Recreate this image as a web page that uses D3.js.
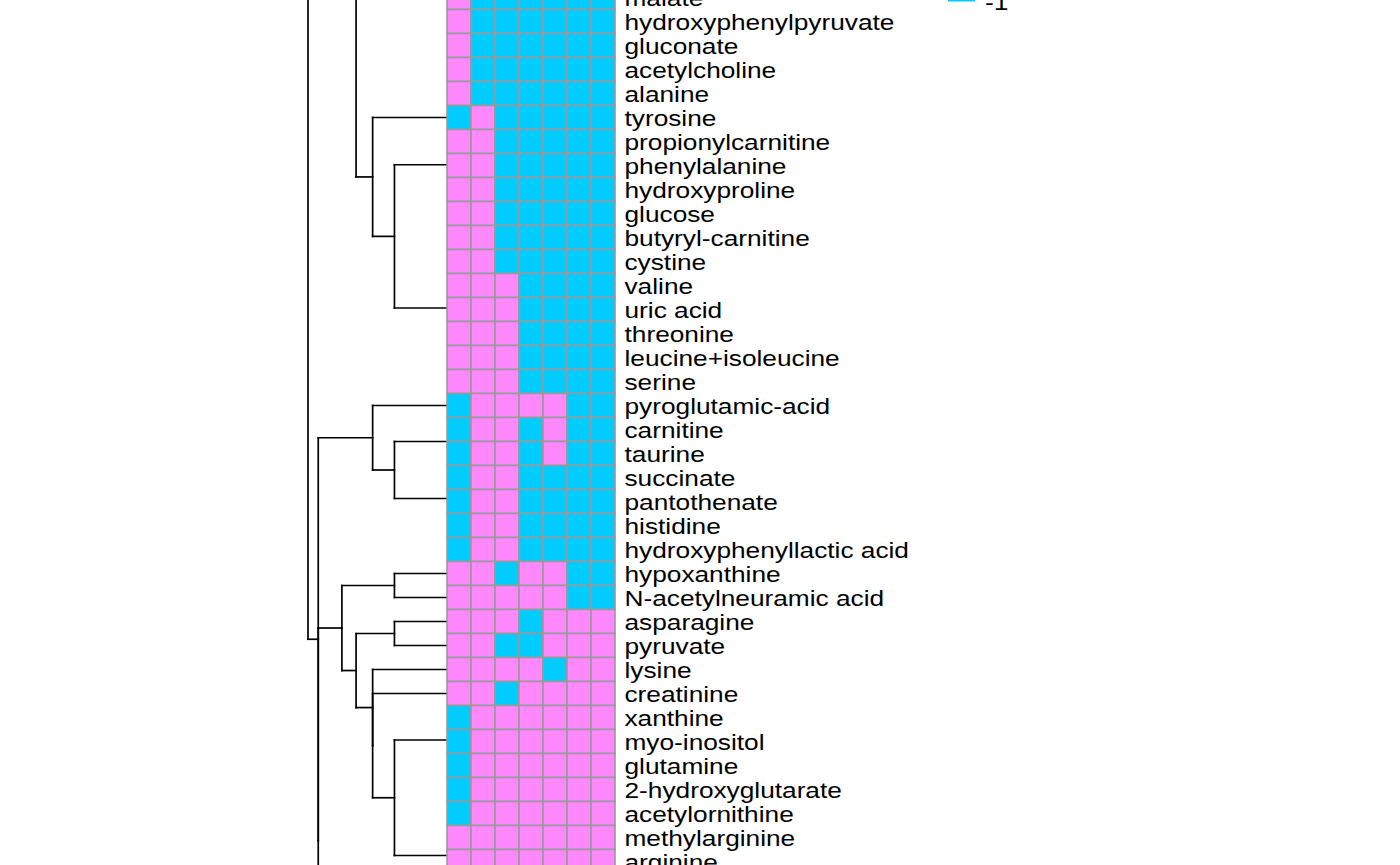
<!DOCTYPE html>
<html>
<head>
<meta charset="utf-8">
<script src="https://cdn.jsdelivr.net/npm/d3@7"></script>
<style>
  html, body { margin: 0; padding: 0; background: #ffffff; }
  svg { display: block; }
</style>
</head>
<body>
<div id="chart"></div>
<script>
// ---------------- data ----------------
const rowLabels = [
  "malate", "hydroxyphenylpyruvate", "gluconate", "acetylcholine", "alanine",
  "tyrosine", "propionylcarnitine", "phenylalanine", "hydroxyproline", "glucose",
  "butyryl-carnitine", "cystine", "valine", "uric acid", "threonine",
  "leucine+isoleucine", "serine", "pyroglutamic-acid", "carnitine", "taurine",
  "succinate", "pantothenate", "histidine", "hydroxyphenyllactic acid",
  "hypoxanthine", "N-acetylneuramic acid", "asparagine", "pyruvate", "lysine",
  "creatinine", "xanthine", "myo-inositol", "glutamine", "2-hydroxyglutarate",
  "acetylornithine", "methylarginine", "arginine"
];
const columns = [1, 2, 3, 4, 5, 6, 7];
// 1 = up (pink), -1 = down (cyan)
const values = [
  [ 1,-1,-1,-1,-1,-1,-1], // malate
  [ 1,-1,-1,-1,-1,-1,-1], // hydroxyphenylpyruvate
  [ 1,-1,-1,-1,-1,-1,-1], // gluconate
  [ 1,-1,-1,-1,-1,-1,-1], // acetylcholine
  [ 1,-1,-1,-1,-1,-1,-1], // alanine
  [-1, 1,-1,-1,-1,-1,-1], // tyrosine
  [ 1, 1,-1,-1,-1,-1,-1], // propionylcarnitine
  [ 1, 1,-1,-1,-1,-1,-1], // phenylalanine
  [ 1, 1,-1,-1,-1,-1,-1], // hydroxyproline
  [ 1, 1,-1,-1,-1,-1,-1], // glucose
  [ 1, 1,-1,-1,-1,-1,-1], // butyryl-carnitine
  [ 1, 1,-1,-1,-1,-1,-1], // cystine
  [ 1, 1, 1,-1,-1,-1,-1], // valine
  [ 1, 1, 1,-1,-1,-1,-1], // uric acid
  [ 1, 1, 1,-1,-1,-1,-1], // threonine
  [ 1, 1, 1,-1,-1,-1,-1], // leucine+isoleucine
  [ 1, 1, 1,-1,-1,-1,-1], // serine
  [-1, 1, 1, 1, 1,-1,-1], // pyroglutamic-acid
  [-1, 1, 1,-1, 1,-1,-1], // carnitine
  [-1, 1, 1,-1, 1,-1,-1], // taurine
  [-1, 1, 1,-1,-1,-1,-1], // succinate
  [-1, 1, 1,-1,-1,-1,-1], // pantothenate
  [-1, 1, 1,-1,-1,-1,-1], // histidine
  [-1, 1, 1,-1,-1,-1,-1], // hydroxyphenyllactic acid
  [ 1, 1,-1, 1, 1,-1,-1], // hypoxanthine
  [ 1, 1, 1, 1, 1,-1,-1], // N-acetylneuramic acid
  [ 1, 1, 1,-1, 1, 1, 1], // asparagine
  [ 1, 1,-1,-1, 1, 1, 1], // pyruvate
  [ 1, 1, 1, 1,-1, 1, 1], // lysine
  [ 1, 1,-1, 1, 1, 1, 1], // creatinine
  [-1, 1, 1, 1, 1, 1, 1], // xanthine
  [-1, 1, 1, 1, 1, 1, 1], // myo-inositol
  [-1, 1, 1, 1, 1, 1, 1], // glutamine
  [-1, 1, 1, 1, 1, 1, 1], // 2-hydroxyglutarate
  [-1, 1, 1, 1, 1, 1, 1], // acetylornithine
  [ 1, 1, 1, 1, 1, 1, 1], // methylarginine
  [ 1, 1, 1, 1, 1, 1, 1]  // arginine
];
const legendValues = [1, -1];
const legendLabels = ["1", "-1"];

// Row dendrogram: [mergeHeight, left, right]; leaves are row indices.
// Indices outside 0..36 are rows of the full heatmap that lie outside this view.
const chainA = [0, 6, [0, 7, [0, 8, [0, 9, [0, 10, 11]]]]];
const chainB = [0, 12, [0, 13, [0, 14, [0, 15, 16]]]];
const topChain = [0, -20, [0, 0, [0, 1, [0, 2, [0, 3, 4]]]]];
const upperBranch = [4.9, -40, [3.46, topChain, [2.83, 5, [2, chainA, chainB]]]];
const pyroBranch = [2.83, 17, [2, [0, 18, 19], [0, 20, [0, 21, [0, 22, 23]]]]];
const xanChain = [0, 30, [0, 31, [0, 32, [0, 33, 34]]]];
const argChain = [0, 35, [0, 36, 37]];
const lowerBranch = [4.9, [4, [2, 24, 25],
                           [3.46, [2, 26, 27], [2.83, 28, [2.83, 29, [2, xanChain, argChain]]]]], 44];
const rowTree = [5.29, upperBranch, [4.9, pyroBranch, lowerBranch]];

// ---------------- drawing ----------------
const W = 1400, H = 865;
const colorOf = v => v > 0 ? "#FF88FF" : "#00CCFF";

const svg = d3.select("#chart").append("svg")
  .attr("width", W).attr("height", H)
  .style("background", "#ffffff");

const rowCenter = d3.scaleLinear().domain([0, rowLabels.length - 1]).range([-2.5, 861.5]);
const cellH = rowCenter(1) - rowCenter(0);
const x = d3.scaleBand().domain(columns).range([447, 615]).padding(0);
const hx = d3.scaleLinear().domain([0, 5.29]).range([447, 308]);

// dendrogram
const segs = [];
function layout(node) {
  if (typeof node === "number") return { y: rowCenter(node), h: 0 };
  const [h, l, r] = node;
  const a = layout(l), b = layout(r);
  const nx = hx(h);
  if (h > 0) {
    segs.push([[nx, a.y], [nx, b.y]]);
    segs.push([[nx, a.y], [hx(a.h), a.y]]);
    segs.push([[nx, b.y], [hx(b.h), b.y]]);
  }
  return { y: (a.y + b.y) / 2, h: h };
}
layout(rowTree);

svg.append("g").attr("class", "dendrogram")
  .selectAll("path").data(segs).join("path")
  .attr("d", d => d3.line()(d))
  .attr("fill", "none")
  .attr("stroke", "#000")
  .attr("stroke-width", 1.7)
  .attr("stroke-linecap", "square");

// heatmap cells
const cells = [];
values.forEach((row, i) => row.forEach((v, j) => cells.push({ i, c: columns[j], v })));
svg.append("g").attr("class", "cells")
  .selectAll("rect").data(cells).join("rect")
  .attr("x", d => x(d.c))
  .attr("y", d => rowCenter(d.i) - cellH / 2)
  .attr("width", x.bandwidth())
  .attr("height", cellH)
  .attr("fill", d => colorOf(d.v))
  .attr("stroke", "#999999")
  .attr("stroke-width", 1.6);

// row labels
const fontSize = 22.5, stretch = 1.167;
svg.append("g").attr("class", "labels")
  .selectAll("text").data(rowLabels).join("text")
  .attr("transform", (d, i) => `translate(624.5,${rowCenter(i) + 8.5}) scale(${stretch},1)`)
  .attr("font-family", "'Liberation Sans', Arial, Helvetica, sans-serif")
  .attr("font-size", fontSize)
  .attr("fill", "#000")
  .text(d => d);

// legend (only its lower end is inside the view)
const legY = d3.scaleBand().domain(legendValues).range([-120, 1.5]);
const leg = svg.append("g").attr("class", "legend");
leg.selectAll("rect").data(legendValues).join("rect")
  .attr("x", 948).attr("width", 27)
  .attr("y", d => legY(d)).attr("height", legY.bandwidth())
  .attr("fill", d => colorOf(d));
leg.selectAll("text").data(legendLabels).join("text")
  .attr("transform", (d, i) => `translate(985,${legY(legendValues[i]) + legY.bandwidth() + 8.5}) scale(${stretch},1)`)
  .attr("font-family", "'Liberation Sans', Arial, Helvetica, sans-serif")
  .attr("font-size", fontSize)
  .attr("fill", "#000")
  .text(d => d);
</script>
</body>
</html>
